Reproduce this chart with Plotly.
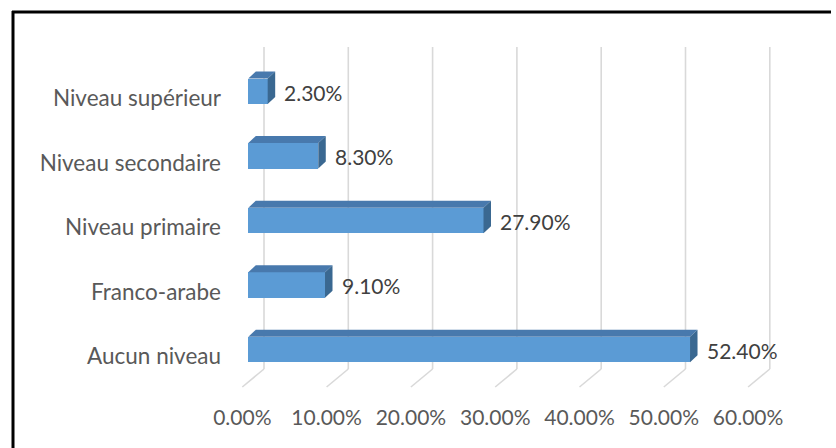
import plotly.graph_objects as go

# ---- data ----
categories = ["Aucun niveau", "Franco-arabe", "Niveau primaire", "Niveau secondaire", "Niveau supérieur"]
values = [52.4, 9.1, 27.9, 8.3, 2.3]
tick_values = [0, 10, 20, 30, 40, 50, 60]
tick_labels = [f"{v:.2f}%" for v in tick_values]

# ---- layout geometry (pixels) ----
W, H = 836, 448
s = 8.43          # px per percent
X0 = 248.3        # px of 0% on bar front plane
xl = 226          # px of y-axis line (labels end left of it)
t = 64.55         # px per category
Y0 = 349.5        # px of first category centre
yb = 403          # px of x-axis line
bar_px = 25.5     # bar front-face thickness px
depth_dx, depth_dy = 7.5, 7.0     # bar depth (px)
back_dx = 15.7                    # back wall offset from front face (px)
floor_dx, floor_y = -6, 387       # floor front edge
grid_top, grid_bot = 47, 369

def ux(px):  # pixel offset -> x units
    return px / s

def uy(ypx):  # absolute pixel y -> y units
    return (Y0 - ypx) / t

idx = list(range(len(categories)))
w = bar_px / t
ddx, ddy = ux(depth_dx), depth_dy / t

fig = go.Figure()
fig.add_trace(go.Bar(
    y=idx, x=values, orientation="h", width=w,
    marker=dict(color="#5B9BD5", line=dict(width=0)),
    hoverinfo="x+y", showlegend=False,
))

shapes = []
# back-wall gridlines and floor lines
for v in tick_values:
    xb = v + ux(back_dx)
    xf = v + ux(floor_dx)
    shapes.append(dict(type="line", xref="x", yref="y", layer="below",
                       x0=xb, x1=xb, y0=uy(grid_top), y1=uy(grid_bot),
                       line=dict(color="#D9D9D9", width=1.6)))
    shapes.append(dict(type="line", xref="x", yref="y", layer="below",
                       x0=xb, x1=xf, y0=uy(grid_bot), y1=uy(floor_y),
                       line=dict(color="#D9D9D9", width=1.6)))

# 3D faces of bars
for i, v in zip(idx, values):
    top = i + w / 2
    bot = i - w / 2
    top_path = f"M 0,{top} L {v},{top} L {v+ddx},{top+ddy} L {ddx},{top+ddy} Z"
    side_path = f"M {v},{bot} L {v},{top} L {v+ddx},{top+ddy} L {v+ddx},{bot+ddy} Z"
    shapes.append(dict(type="path", xref="x", yref="y", layer="above", path=top_path,
                       fillcolor="#4879AD", line=dict(width=0)))
    shapes.append(dict(type="path", xref="x", yref="y", layer="above", path=side_path,
                       fillcolor="#3A6891", line=dict(width=0)))

# outer border (top and left visible)
shapes.append(dict(type="line", xref="paper", yref="paper", layer="above",
                   x0=12 / W, x1=831 / W, y0=1 - 12 / H, y1=1 - 12 / H,
                   line=dict(color="black", width=3)))
shapes.append(dict(type="line", xref="paper", yref="paper", layer="above",
                   x0=13 / W, x1=13 / W, y0=1 - 11 / H, y1=-0.01,
                   line=dict(color="black", width=3)))

annotations = []
for i, v in zip(idx, values):
    annotations.append(dict(x=v, y=i, xref="x", yref="y", text=f"{v:.2f}%",
                            showarrow=False, xanchor="left", yanchor="middle",
                            xshift=depth_dx + 7, yshift=-1,
                            font=dict(family="Lato", size=21, color="#404040")))

fig.update_layout(
    width=W, height=H,
    margin=dict(l=0, r=0, t=0, b=0, pad=0, autoexpand=False),
    paper_bgcolor="white", plot_bgcolor="rgba(0,0,0,0)",
    showlegend=False,
    shapes=shapes, annotations=annotations,
    bargap=0,
    xaxis=dict(domain=[xl / W, 1], range=[ux(xl - X0), ux(W - X0)],
               automargin=False,
               showgrid=False, zeroline=False, showline=False,
               tickvals=tick_values, ticktext=tick_labels,
               ticks="", ticklabelshift=floor_dx, ticklabelstandoff=0,
               tickfont=dict(family="Lato", size=21, color="#595959"),
               fixedrange=True),
    yaxis=dict(domain=[(H - yb) / H, 1], range=[uy(yb), uy(0)],
               automargin=False,
               showgrid=False, zeroline=False, showline=False,
               tickvals=idx, ticktext=categories, ticks="",
               ticklabelstandoff=4, ticklabelshift=7,
               tickfont=dict(family="Lato", size=22.5, color="#595959"),
               fixedrange=True),
    font=dict(family="Lato"),
)

fig.write_html("out.html", config={"displayModeBar": False},
               post_script="document.body.style.margin='0';")
